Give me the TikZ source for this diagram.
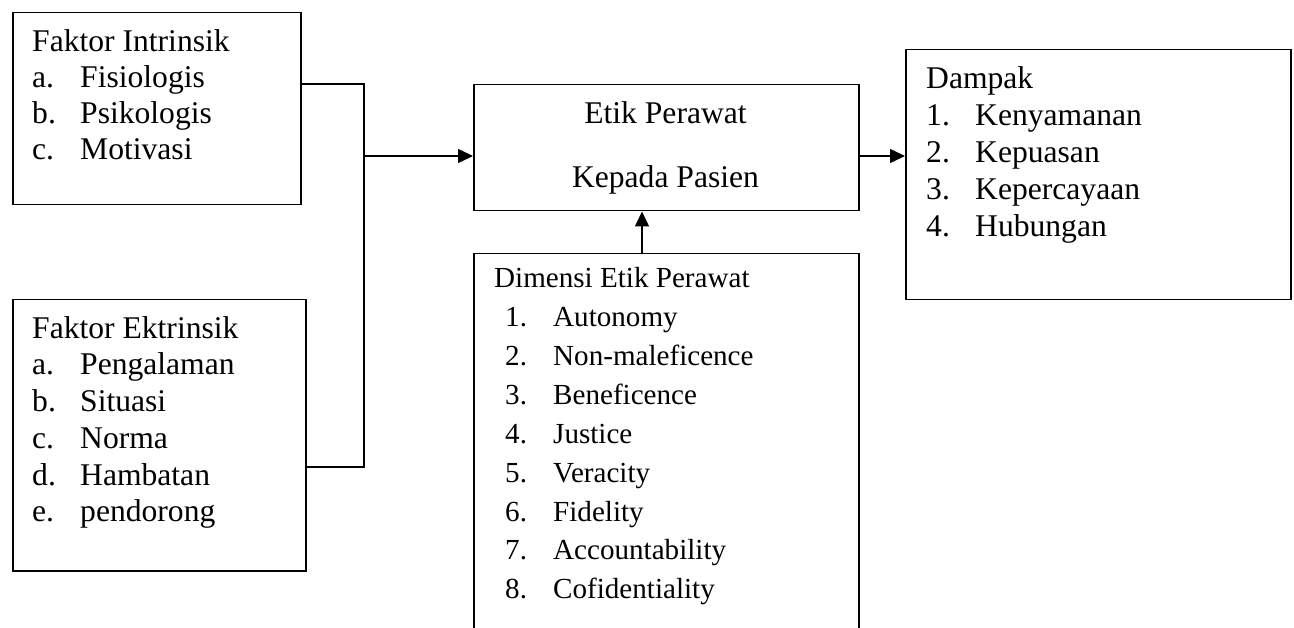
\documentclass[tikz,border=0pt]{standalone}
\usepackage{fontspec}
\setmainfont{Liberation Serif}
\usetikzlibrary{arrows.meta}
\begin{document}
\begin{tikzpicture}[x=1pt,y=-1pt,
  box/.style={draw,line width=1.5pt,rectangle,anchor=north west,inner sep=0pt},
  txt/.style={anchor=base west,inner sep=0pt,font=\fontsize{31.6}{36}\selectfont},
  stxt/.style={anchor=base west,inner sep=0pt,font=\fontsize{29.1}{34}\selectfont},
  ctxt/.style={anchor=base,inner sep=0pt,font=\fontsize{31.6}{36}\selectfont},
  conn/.style={line width=1.5pt},
  arr/.style={line width=1.5pt,-{Triangle[length=15pt,width=14pt]}}]
\useasboundingbox (0,0) rectangle (1294,628);
\clip (0,0) rectangle (1294,628);
% boxes
\node[box,minimum width=288pt,minimum height=192pt] (b1) at (12,12) {};
\node[box,minimum width=293pt,minimum height=271pt] (b2) at (12,299) {};
\node[box,minimum width=385pt,minimum height=126pt] (b3) at (473,84) {};
\node[box,minimum width=385pt,minimum height=420pt] (b4) at (473,253) {};
\node[box,minimum width=385pt,minimum height=250pt] (b5) at (905,49) {};
% box 1 text
\node[txt] (t1) at (32,52) {Faktor Intrinsik};
\node[txt] (t1a) at (32,88) {a.};  \node[txt] (t1at) at (80,88) {Fisiologis};
\node[txt] (t1b) at (32,124) {b.}; \node[txt] (t1bt) at (80,124) {Psikologis};
\node[txt] (t1c) at (32,160) {c.}; \node[txt] (t1ct) at (80,160) {Motivasi};
% box 2 text
\node[txt] (t2) at (32,339) {Faktor Ektrinsik};
\node[txt] (t2a) at (32,375) {a.}; \node[txt] (t2at) at (80,375) {Pengalaman};
\node[txt] (t2b) at (32,412) {b.}; \node[txt] (t2bt) at (80,412) {Situasi};
\node[txt] (t2c) at (32,448) {c.}; \node[txt] (t2ct) at (80,448) {Norma};
\node[txt] (t2d) at (32,485) {d.}; \node[txt] (t2dt) at (80,485) {Hambatan};
\node[txt] (t2e) at (32,521) {e.}; \node[txt] (t2et) at (80,521) {pendorong};
% box 3 text
\node[ctxt] (t3a) at (665.5,124) {Etik Perawat};
\node[ctxt] (t3b) at (665.5,188) {Kepada Pasien};
% box 4 text
\node[stxt] (t4) at (494,288) {Dimensi Etik Perawat};
\node[stxt] (n1) at (505,327) {1.}; \node[stxt] (d1) at (553,327) {Autonomy};
\node[stxt] (n2) at (505,366) {2.}; \node[stxt] (d2) at (553,366) {Non-maleficence};
\node[stxt] (n3) at (505,405) {3.}; \node[stxt] (d3) at (553,405) {Beneficence};
\node[stxt] (n4) at (505,443) {4.}; \node[stxt] (d4) at (553,443) {Justice};
\node[stxt] (n5) at (505,482) {5.}; \node[stxt] (d5) at (553,482) {Veracity};
\node[stxt] (n6) at (505,521) {6.}; \node[stxt] (d6) at (553,521) {Fidelity};
\node[stxt] (n7) at (505,559) {7.}; \node[stxt] (d7) at (553,559) {Accountability};
\node[stxt] (n8) at (505,598) {8.}; \node[stxt] (d8) at (553,598) {Cofidentiality};
% box 5 text
\node[txt] (t5) at (926,89) {Dampak};
\node[txt] (m1) at (926,126) {1.}; \node[txt] (e1) at (975,126) {Kenyamanan};
\node[txt] (m2) at (926,163) {2.}; \node[txt] (e2) at (975,163) {Kepuasan};
\node[txt] (m3) at (926,200) {3.}; \node[txt] (e3) at (975,200) {Kepercayaan};
\node[txt] (m4) at (926,237) {4.}; \node[txt] (e4) at (975,237) {Hubungan};
% connectors
\coordinate (j1) at (364,84);
\coordinate (j2) at (364,467);
\coordinate (jm) at (364,156);
\coordinate (ax) at (642,0);
\draw[conn] (b1.east |- j1) -- (j1) -- (j2) -- (b2.east |- j2);
\draw[arr] (jm) -- (b3.west |- jm);
\draw[arr] (b3.east |- jm) -- (b5.west |- jm);
\draw[arr] (b4.north -| ax) -- (b3.south -| ax);
\end{tikzpicture}
\end{document}
